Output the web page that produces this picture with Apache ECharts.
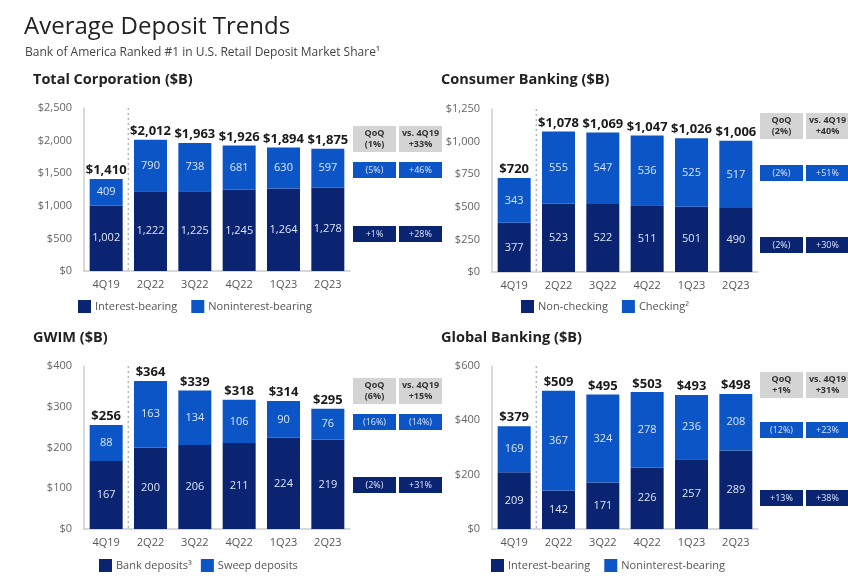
<!DOCTYPE html>
<html>
<head>
<meta charset="utf-8">
<title>Average Deposit Trends</title>
<script src="https://cdn.jsdelivr.net/npm/echarts@6/dist/echarts.min.js"></script>
<style>
html, body { margin: 0; padding: 0; background: #fff; }
#main { width: 848px; height: 581px; }
</style>
</head>
<body>
<div id="main"></div>
<script>
var quarters = ['4Q19', '2Q22', '3Q22', '4Q22', '1Q23', '2Q23'];

var totalCorpLower = [1002, 1222, 1225, 1245, 1264, 1278];
var totalCorpUpper = [409, 790, 738, 681, 630, 597];
var totalCorpSum = [1410, 2012, 1963, 1926, 1894, 1875];

var consumerLower = [377, 523, 522, 511, 501, 490];
var consumerUpper = [343, 555, 547, 536, 525, 517];
var consumerSum = [720, 1078, 1069, 1047, 1026, 1006];

var gwimLower = [167, 200, 206, 211, 224, 219];
var gwimUpper = [88, 163, 134, 106, 90, 76];
var gwimSum = [256, 364, 339, 318, 314, 295];

var globalLower = [209, 142, 171, 226, 257, 289];
var globalUpper = [169, 367, 324, 278, 236, 208];
var globalSum = [379, 509, 495, 503, 493, 498];

// [QoQ, vs. 4Q19] for total / upper stack / lower stack
var totalCorpChg = [['(1%)', '+33%'], ['(5%)', '+46%'], ['+1%', '+28%']];
var consumerChg = [['(2%)', '+40%'], ['(2%)', '+51%'], ['(2%)', '+30%']];
var gwimChg = [['(6%)', '+15%'], ['(16%)', '(14%)'], ['(2%)', '+31%']];
var globalChg = [['+1%', '+31%'], ['(12%)', '+23%'], ['+13%', '+38%']];

var DARK = '#0a2472';
var BLUE = '#0b55c6';
var GRAY = '#d4d4d4';
var FONT = '"Open Sans", "Noto Sans", sans-serif';

var panels = [
	{ title: 'Total Corporation ($B)', lower: totalCorpLower, upper: totalCorpUpper, sum: totalCorpSum, chg: totalCorpChg,
		names: ['Interest-bearing', 'Noninterest-bearing'], max: 2500, interval: 500,
		x: 84, top: 108, titleX: 33, titleY: 72, legendX: 78, legendY: 300, legendGap: 14, boxX: 353, rows: [126, 162, 226] },
	{ title: 'Consumer Banking ($B)', lower: consumerLower, upper: consumerUpper, sum: consumerSum, chg: consumerChg,
		names: ['Non-checking', 'Checking²'], max: 1250, interval: 250,
		x: 492, top: 109, titleX: 441, titleY: 72, legendX: 521, legendY: 300, legendGap: 14, boxX: 760, rows: [113, 165, 237] },
	{ title: 'GWIM ($B)', lower: gwimLower, upper: gwimUpper, sum: gwimSum, chg: gwimChg,
		names: ['Bank deposits³', 'Sweep deposits'], max: 400, interval: 100,
		x: 84, top: 366, titleX: 33, titleY: 330, legendX: 99, legendY: 559, legendGap: 9, boxX: 353, rows: [378, 414, 477] },
	{ title: 'Global Banking ($B)', lower: globalLower, upper: globalUpper, sum: globalSum, chg: globalChg,
		names: ['Interest-bearing', 'Noninterest-bearing'], max: 600, interval: 200,
		x: 492, top: 366, titleX: 441, titleY: 330, legendX: 491, legendY: 559, legendGap: 14, boxX: 760, rows: [372, 422, 490] }
];

var GRID_W = 266, GRID_H = 163;
var BOX_W = 43, BOX_GAP = 3;

function money(v) {
	return '$' + v.toLocaleString('en-US');
}

function stackLabel(color) {
	return {
		show: true,
		position: 'inside',
		color: color,
		fontFamily: FONT,
		fontSize: 11,
		formatter: function(p) {
			return p.value.toLocaleString('en-US');
		}
	};
}

var option = {
	backgroundColor: '#fff',
	animation: false,
	title: [
		{ text: 'Average Deposit Trends', left: 24, top: 15, padding: 0, textStyle: { fontFamily: FONT, fontSize: 24, fontWeight: 'normal', color: '#222' } },
		{ text: 'Bank of America Ranked #1 in U.S. Retail Deposit Market Share¹', left: 25, top: 47, padding: 0, textStyle: { fontFamily: FONT, fontSize: 12, fontWeight: 'normal', color: '#444' } }
	],
	grid: [], xAxis: [], yAxis: [], legend: [], series: [], graphic: []
};

panels.forEach(function(p, i) {
	option.title.push({ text: p.title, left: p.titleX, top: p.titleY, padding: 0, textStyle: { fontFamily: FONT, fontSize: 14.5, fontWeight: 'bold', color: '#222' } });
	option.grid.push({ left: p.x, top: p.top, width: GRID_W, height: GRID_H });
	option.xAxis.push({
		type: 'category', gridIndex: i, data: quarters,
		axisLine: { lineStyle: { color: '#ccc', width: 1.5 } },
		axisTick: { show: false },
		axisLabel: { color: '#555', fontFamily: FONT, fontSize: 11, margin: 8, interval: 0 }
	});
	option.yAxis.push({
		type: 'value', gridIndex: i, min: 0, max: p.max, interval: p.interval,
		axisLine: { show: true, lineStyle: { color: '#ccc', width: 1.5 } },
		axisTick: { show: false },
		splitLine: { show: false },
		axisLabel: { color: '#666', fontFamily: FONT, fontSize: 11, margin: 12, formatter: money }
	});
	option.legend.push({
		left: p.legendX, top: p.legendY, padding: 0, itemWidth: 13, itemHeight: 13, itemGap: p.legendGap, icon: 'rect',
		data: p.names, selectedMode: false,
		textStyle: { color: '#555', fontFamily: FONT, fontSize: 11, padding: [0, 0, 0, -1] }
	});
	option.series.push(
		{ name: p.names[0], type: 'bar', stack: 's' + i, xAxisIndex: i, yAxisIndex: i, data: p.lower, barWidth: 33, itemStyle: { color: DARK }, label: stackLabel('#dbe4f5') },
		{ name: p.names[1], type: 'bar', stack: 's' + i, xAxisIndex: i, yAxisIndex: i, data: p.upper, barWidth: 33, itemStyle: { color: BLUE }, label: stackLabel('#dbe6fa') },
		{
			name: 'Total', type: 'line', xAxisIndex: i, yAxisIndex: i, data: p.sum, silent: true,
			symbolSize: 0, lineStyle: { width: 0, opacity: 0 }, z: 5,
			label: { show: true, position: 'top', distance: 2, color: '#1a1a1a', fontFamily: FONT, fontSize: 13, fontWeight: 'bold', formatter: function(d) { return money(d.value); } }
		}
	);

	// dotted divider between 4Q19 and the recent quarters
	var dividerX = p.x + GRID_W / quarters.length;
	option.graphic.push({
		type: 'line', silent: true,
		shape: { x1: dividerX, y1: p.top, x2: dividerX, y2: p.top + GRID_H },
		style: { stroke: '#b5b5b5', lineWidth: 1.5, lineDash: [2, 3] }
	});

	// change tables to the right of the bars
	var fills = [GRAY, BLUE, DARK];
	var heads = ['QoQ', 'vs. 4Q19'];
	p.rows.forEach(function(y, r) {
		for (var c = 0; c < 2; c++) {
			var bx = p.boxX + c * (BOX_W + BOX_GAP);
			var h = r === 0 ? 26 : 16;
			option.graphic.push({ type: 'rect', silent: true, shape: { x: bx, y: y, width: BOX_W, height: h }, style: { fill: fills[r] } });
			option.graphic.push({
				type: 'text', silent: true, x: bx + BOX_W / 2, y: y + h / 2, z: 10,
				style: {
					text: r === 0 ? heads[c] + '\n' + p.chg[r][c] : p.chg[r][c],
					fill: r === 0 ? '#333' : '#dbe6fa',
					font: (r === 0 ? 'bold ' : '') + '9px ' + FONT,
					lineHeight: 11,
					align: 'center', verticalAlign: 'middle'
				}
			});
		}
	});
});

var myChart = echarts.init(document.getElementById('main'), null, { renderer: 'canvas' });
myChart.setOption(option, true);
</script>
</body>
</html>
